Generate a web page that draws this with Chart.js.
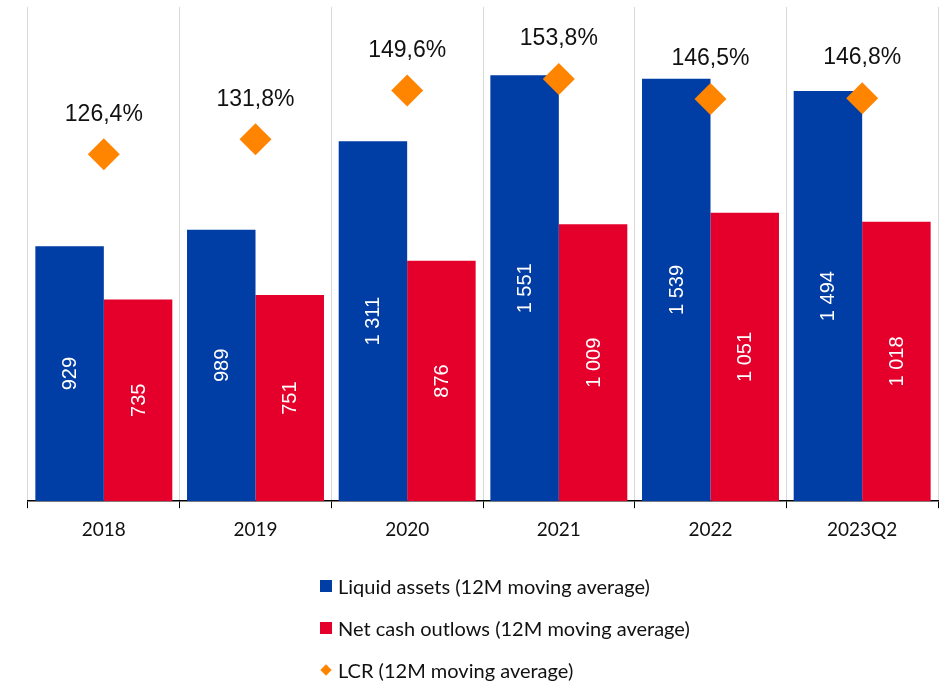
<!DOCTYPE html>
<html>
<head>
<meta charset="utf-8">
<script src="https://cdn.jsdelivr.net/npm/chart.js@4"></script>
<style>
  html, body { margin: 0; padding: 0; background: #fff; overflow: hidden; }
  #wrap { position: relative; width: 944px; height: 682px; }
  canvas { display: block; }
  #legend { position: absolute; left: 320px; top: 565px; font-family: Lato, "Open Sans", sans-serif; font-size: 20px; color: #111; }
  .row { height: 42px; display: flex; align-items: center; }
  .mark { width: 12px; height: 12px; margin-right: 6px; }
  .dia { width: 8px; height: 8px; transform: rotate(45deg); margin: 0 8px 0 2px; }
</style>
</head>
<body>
<div id="wrap">
  <canvas id="chart" width="944" height="682"></canvas>
  <div id="legend"></div>
</div>
<script>
const categories = ["2018", "2019", "2020", "2021", "2022", "2023Q2"];
const liquidAssets = [929, 989, 1311, 1551, 1539, 1494];
const netOutflows = [735, 751, 876, 1009, 1051, 1018];
const lcr = [126.4, 131.8, 149.6, 153.8, 146.5, 146.8];

const BLUE = "#003DA5";
const RED = "#E4002B";
const ORANGE = "#FF8500";

function fmtNum(v) {
  return String(v).replace(/\B(?=(\d{3})+(?!\d))/g, " ");
}
function fmtPct(v) {
  return v.toFixed(1).replace(".", ",") + "%";
}

const labelPlugin = {
  id: "valueLabels",
  afterDatasetsDraw(chart) {
    const ctx = chart.ctx;
    ctx.save();
    chart.data.datasets.forEach((ds, i) => {
      const meta = chart.getDatasetMeta(i);
      if (meta.type === "bar") {
        ctx.fillStyle = "#fff";
        ctx.font = "20px 'Liberation Sans', Arial, sans-serif";
        ctx.textAlign = "center";
        ctx.textBaseline = "middle";
        meta.data.forEach((el, j) => {
          const y = (el.y + el.base) / 2;
          ctx.save();
          ctx.translate(el.x, y);
          ctx.rotate(-Math.PI / 2);
          ctx.fillText(fmtNum(ds.data[j]), 0, 1);
          ctx.restore();
        });
      }
    });
    chart.data.datasets.forEach((ds, i) => {
      const meta = chart.getDatasetMeta(i);
      if (meta.type === "line") {
        ctx.fillStyle = "#111";
        ctx.font = "23px 'Liberation Sans', Arial, sans-serif";
        ctx.textAlign = "center";
        ctx.textBaseline = "middle";
        meta.data.forEach((el, j) => {
          ctx.fillText(fmtPct(ds.data[j]), el.x, el.y - 40);
        });
      }
    });
    ctx.restore();
  }
};

const chart = new Chart(document.getElementById("chart"), {
  type: "bar",
  data: {
    labels: categories,
    datasets: [
      {
        label: "Liquid assets (12M moving average)",
        data: liquidAssets,
        backgroundColor: BLUE,
        yAxisID: "y",
        order: 1
      },
      {
        label: "Net cash outlows (12M moving average)",
        data: netOutflows,
        backgroundColor: RED,
        yAxisID: "y",
        order: 1
      },
      {
        type: "line",
        label: "LCR (12M moving average)",
        data: lcr,
        yAxisID: "y1",
        showLine: false,
        pointStyle: "rectRot",
        pointRadius: 16,
        pointHoverRadius: 16,
        pointBackgroundColor: ORANGE,
        pointBorderWidth: 0,
        borderColor: ORANGE,
        order: 0
      }
    ]
  },
  options: {
    responsive: false,
    animation: false,
    layout: { autoPadding: false, padding: { left: 28, right: 6, top: 7, bottom: 131 } },
    datasets: { bar: { categoryPercentage: 0.903, barPercentage: 1 } },
    scales: {
      x: {
        grid: { color: "#d9d9d9", tickColor: "#000", tickLength: 7, lineWidth: 1 },
        border: { color: "#000", width: 1.5 },
        ticks: { color: "#111", padding: 10, font: { family: "Lato", size: 19 } }
      },
      y: { display: false, min: 0, max: 1800 },
      y1: { display: false, min: 0, max: 180 }
    },
    plugins: {
      legend: { display: false },
      tooltip: { enabled: false }
    }
  },
  plugins: [labelPlugin]
});

// legend as html, built from the chart's datasets
const legendEl = document.getElementById("legend");
chart.data.datasets.forEach(ds => {
  const row = document.createElement("div");
  row.className = "row";
  const mark = document.createElement("span");
  const col = ds.type === "line" ? ds.pointBackgroundColor : ds.backgroundColor;
  mark.className = ds.type === "line" ? "dia" : "mark";
  mark.style.background = col;
  const txt = document.createElement("span");
  txt.textContent = ds.label;
  row.appendChild(mark);
  row.appendChild(txt);
  legendEl.appendChild(row);
});
</script>
</body>
</html>
